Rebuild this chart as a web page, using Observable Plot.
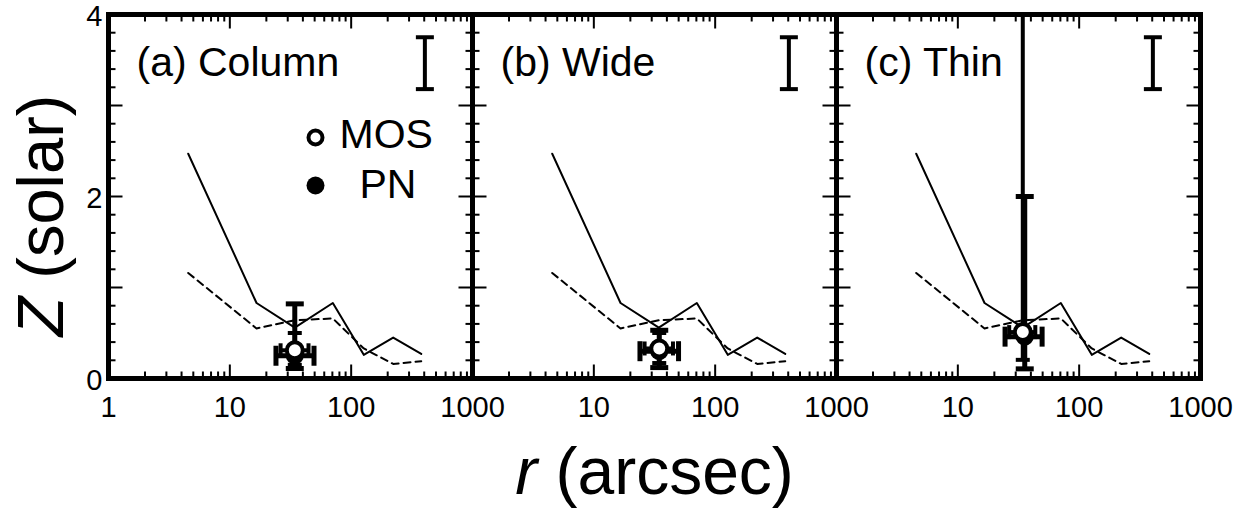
<!DOCTYPE html>
<html>
<head>
<meta charset="utf-8">
<script src="https://cdn.jsdelivr.net/npm/d3@7"></script>
<script src="https://cdn.jsdelivr.net/npm/@observablehq/plot@0.6"></script>
<style>
  html, body { margin: 0; padding: 0; background: #fff; }
  #chart { width: 1255px; height: 517px; }
</style>
</head>
<body>
<div id="chart"></div>
<script>
// Panels (facets) and their titles
const panels = ["a", "b", "c"];
const panelTitles = ["(a) Column", "(b) Wide", "(c) Thin"];

// Model abundance profiles, shared by all three panels
const modelR = [4.54, 16.6, 34.3, 70.6, 127, 222, 378];
const modelZSolid = [2.47, 0.83, 0.56, 0.83, 0.26, 0.45, 0.27];
const modelZDashed = [1.16, 0.55, 0.64, 0.66, 0.33, 0.16, 0.19];

// MOS measurement per panel (value and error range)
const mosR   = [34.3, 34.6, 34.3];
const mosRLo = [26.2, 26.2, 26.5];
const mosRHi = [44.5, 44.9, 43.5];
const mosZ   = [0.31, 0.33, 0.51];
const mosZLo = [0.15, 0.17, 0.205];
const mosZHi = [0.50, 0.50, 4.6];

// PN measurement per panel (value and error range)
const pnR   = [34.3, 34.6, 35.6];
const pnRLo = [24.0, 24.0, 24.5];
const pnRHi = [49.4, 49.9, 49.5];
const pnZ   = [0.25, 0.30, 0.46];
const pnZLo = [0.11, 0.12, 0.106];
const pnZHi = [0.82, 0.53, 2.0];

// Typical error bar drawn in the upper right of each panel
const typR = [405];
const typZLo = [3.18];
const typZHi = [3.75];

// Axis ticks and labels
const xMajor = [10, 100];
const xMinor = [2, 3, 4, 5, 6, 7, 8, 9, 20, 30, 40, 50, 60, 70, 80, 90, 200, 300, 400, 500, 600, 700, 800, 900];
const yMajor = [1, 2, 3];
const yMinor = [0.2, 0.4, 0.6, 0.8, 1.2, 1.4, 1.6, 1.8, 2.2, 2.4, 2.6, 2.8, 3.2, 3.4, 3.6, 3.8];
const yLabels = [0, 2, 4];
const xLabelsFirst = [1, 10, 100, 1000];
const xLabelsRest = [10, 100, 1000];

// Tables built from the arrays above
const model = modelR.map((r, i) => ({r, solid: modelZSolid[i], dashed: modelZDashed[i]}));
const titles = panels.map((p, i) => ({panel: p, title: panelTitles[i]}));
const mos = panels.map((p, i) => ({panel: p, r: mosR[i], rlo: mosRLo[i], rhi: mosRHi[i], z: mosZ[i], zlo: mosZLo[i], zhi: mosZHi[i]}));
const pn = panels.map((p, i) => ({panel: p, r: pnR[i], rlo: pnRLo[i], rhi: pnRHi[i], z: pnZ[i], zlo: pnZLo[i], zhi: pnZHi[i]}));
const typical = typR.map((r, i) => ({r, zlo: typZLo[i], zhi: typZHi[i]}));
const xLabelRows = panels.flatMap((p, i) => (i === 0 ? xLabelsFirst : xLabelsRest).map(v => ({panel: p, r: v})));

// Segment symbols: the symbol "radius" is the segment (half-)length
const len = size => Math.sqrt(size / Math.PI);
const hCap = {draw(ctx, s) { const w = len(s); ctx.moveTo(-w, 0); ctx.lineTo(w, 0); }};
const vCap = {draw(ctx, s) { const w = len(s); ctx.moveTo(0, -w); ctx.lineTo(0, w); }};
const tickUp = {draw(ctx, s) { ctx.moveTo(0, 0); ctx.lineTo(0, -len(s)); }};
const tickDown = {draw(ctx, s) { ctx.moveTo(0, 0); ctx.lineTo(0, len(s)); }};
const tickRight = {draw(ctx, s) { ctx.moveTo(0, 0); ctx.lineTo(len(s), 0); }};
const tickLeft = {draw(ctx, s) { ctx.moveTo(0, 0); ctx.lineTo(-len(s), 0); }};

const majorLen = 14, minorLen = 7;
const tickStyle = {fill: "none", stroke: "black", strokeWidth: 2};

// Inward ticks on all four sides of a panel
function ticks() {
  return [
    Plot.dot(xMajor, {x: d => d, frameAnchor: "bottom", symbol: tickUp, r: majorLen, ...tickStyle}),
    Plot.dot(xMajor, {x: d => d, frameAnchor: "top", symbol: tickDown, r: majorLen, ...tickStyle}),
    Plot.dot(xMinor, {x: d => d, frameAnchor: "bottom", symbol: tickUp, r: minorLen, ...tickStyle}),
    Plot.dot(xMinor, {x: d => d, frameAnchor: "top", symbol: tickDown, r: minorLen, ...tickStyle}),
    Plot.dot(yMajor, {y: d => d, frameAnchor: "left", symbol: tickRight, r: majorLen, ...tickStyle}),
    Plot.dot(yMajor, {y: d => d, frameAnchor: "right", symbol: tickLeft, r: majorLen, ...tickStyle}),
    Plot.dot(yMinor, {y: d => d, frameAnchor: "left", symbol: tickRight, r: minorLen, ...tickStyle}),
    Plot.dot(yMinor, {y: d => d, frameAnchor: "right", symbol: tickLeft, r: minorLen, ...tickStyle})
  ];
}

// Error bars for one data set
function errorBars(data, {lw, capV, capH}) {
  const s = {fill: "none", stroke: "black", strokeWidth: lw};
  return [
    Plot.ruleX(data, {fx: "panel", x: "r", y1: "zlo", y2: "zhi", stroke: "black", strokeWidth: lw, clip: true}),
    Plot.ruleY(data, {fx: "panel", y: "z", x1: "rlo", x2: "rhi", stroke: "black", strokeWidth: lw}),
    Plot.dot(data, {fx: "panel", x: "r", y: "zlo", symbol: hCap, r: capV, clip: true, ...s}),
    Plot.dot(data, {fx: "panel", x: "r", y: "zhi", symbol: hCap, r: capV, clip: true, ...s}),
    Plot.dot(data, {fx: "panel", x: "rlo", y: "z", symbol: vCap, r: capH, ...s}),
    Plot.dot(data, {fx: "panel", x: "rhi", y: "z", symbol: vCap, r: capH, ...s})
  ];
}

const inA = [{panel: "a"}];
const inB = [{panel: "b"}];

const chart = Plot.plot({
  width: 1255,
  height: 517,
  marginLeft: 108,
  marginRight: 55,
  marginTop: 14,
  marginBottom: 139,
  style: {fontFamily: "'Liberation Sans', Arial, Helvetica, sans-serif", background: "white", color: "black", overflow: "visible"},
  fx: {domain: panels, padding: 0, axis: null},
  x: {type: "log", domain: [1, 1000], axis: null},
  y: {domain: [0, 4], axis: null},
  marks: [
    ...ticks(),

    // model profiles
    Plot.line(model, {x: "r", y: "solid", stroke: "black", strokeWidth: 2}),
    Plot.line(model, {x: "r", y: "dashed", stroke: "black", strokeWidth: 2, strokeDasharray: "7,5"}),

    // typical error bar
    Plot.ruleX(typical, {x: "r", y1: "zlo", y2: "zhi", stroke: "black", strokeWidth: 4}),
    Plot.dot(typical, {x: "r", y: "zlo", symbol: hCap, r: 9, fill: "none", stroke: "black", strokeWidth: 4}),
    Plot.dot(typical, {x: "r", y: "zhi", symbol: hCap, r: 9, fill: "none", stroke: "black", strokeWidth: 4}),

    // PN (filled) and MOS (open) measurements
    ...errorBars(pn, {lw: 5, capV: 9, capH: 10}),
    Plot.dot(pn, {fx: "panel", x: "r", y: "z", r: 9, fill: "black", stroke: "none"}),
    ...errorBars(mos, {lw: 4, capV: 7, capH: 7}),
    Plot.dot(mos, {fx: "panel", x: "r", y: "z", r: 8, fill: "white", stroke: "black", strokeWidth: 4}),

    // panel titles
    Plot.text(titles, {fx: "panel", text: "title", frameAnchor: "top-left", textAnchor: "start", lineAnchor: "bottom", dx: 28, dy: 61, fontSize: 41}),

    // legend
    Plot.dot(inA, {fx: "panel", frameAnchor: "top-left", dx: 207, dy: 123, r: 7, fill: "white", stroke: "black", strokeWidth: 4}),
    Plot.text(inA, {fx: "panel", text: () => "MOS", frameAnchor: "top-left", textAnchor: "start", lineAnchor: "bottom", dx: 231, dy: 133, fontSize: 41}),
    Plot.dot(inA, {fx: "panel", frameAnchor: "top-left", dx: 207, dy: 171, r: 9, fill: "black"}),
    Plot.text(inA, {fx: "panel", text: () => "PN", frameAnchor: "top-left", textAnchor: "start", lineAnchor: "bottom", dx: 251, dy: 183, fontSize: 41}),

    // tick labels
    Plot.text(yLabels, {fx: () => "a", y: d => d, text: d => String(d), frameAnchor: "left", textAnchor: "end", dx: -6, dy: 2, fontSize: 29}),
    Plot.text(xLabelRows, {fx: "panel", x: "r", text: d => String(d.r), frameAnchor: "bottom", lineAnchor: "bottom", dy: 38, fontSize: 29}),

    // axis titles
    Plot.text(inA, {fx: "panel", text: () => "Z (solar)", frameAnchor: "left", rotate: -90, textAnchor: "middle", lineAnchor: "bottom", dx: -46, dy: 19, fontSize: 65}),
    Plot.text(inB, {fx: "panel", text: () => "r (arcsec)", frameAnchor: "bottom", textAnchor: "middle", lineAnchor: "bottom", dy: 115, fontSize: 66}),

    // panel frames
    Plot.frame({stroke: "black", strokeWidth: 5})
  ]
});

// italic variable symbol in the axis titles
d3.select(chart).selectAll("text").each(function () {
  const t = this.textContent;
  if (t === "Z (solar)" || t === "r (arcsec)") {
    const sel = d3.select(this);
    sel.text(null);
    sel.append("tspan").attr("font-style", "italic").text(t[0]);
    sel.append("tspan").text(t.slice(1));
  }
});

document.getElementById("chart").appendChild(chart);
</script>
</body>
</html>
